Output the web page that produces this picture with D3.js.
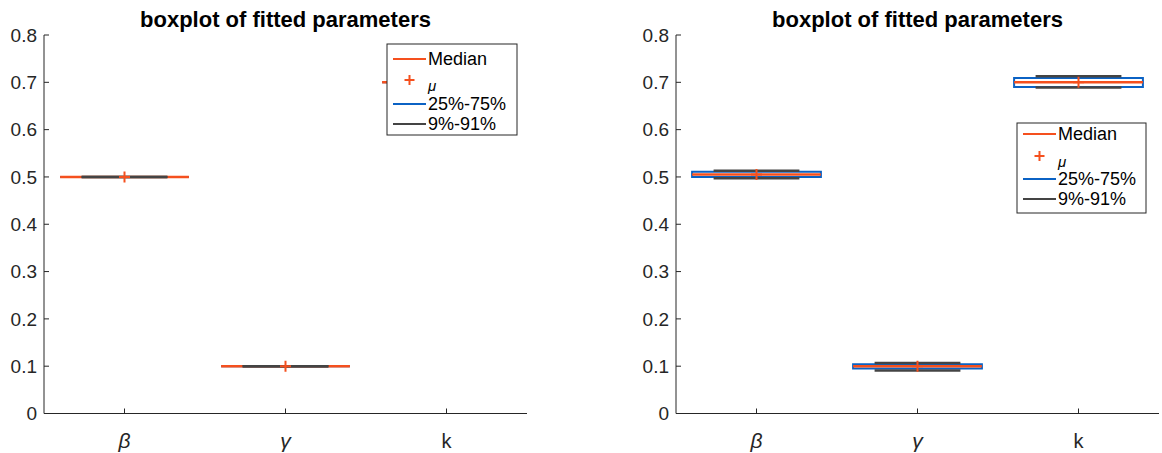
<!DOCTYPE html>
<html>
<head>
<meta charset="utf-8">
<script src="https://cdn.jsdelivr.net/npm/d3@7"></script>
<style>
  body { margin: 0; background: #fff; }
  svg { display: block; }
  text { font-family: "Liberation Sans", Arial, Helvetica, sans-serif; }
</style>
</head>
<body>
<svg id="chart" width="1162" height="453"></svg>
<script>
// ---------- data ----------
const categories = ["β", "γ", "k"];
const categoryItalic = [true, true, false];
const yTicks = [0, 0.1, 0.2, 0.3, 0.4, 0.5, 0.6, 0.7, 0.8];
const yTickLabels = ["0", "0.1", "0.2", "0.3", "0.4", "0.5", "0.6", "0.7", "0.8"];
const titleText = "boxplot of fitted parameters";
const legendLabels = ["Median", "μ", "25%-75%", "9%-91%"];

// left panel
const leftMedian = [0.5, 0.1, 0.7];
const leftMean   = [0.5, 0.1, 0.7];
const leftQ25    = [0.5, 0.1, 0.7];
const leftQ75    = [0.5, 0.1, 0.7];
const leftP09    = [0.5, 0.1, 0.7];
const leftP91    = [0.5, 0.1, 0.7];

// right panel
const rightMedian = [0.505, 0.100, 0.700];
const rightMean   = [0.505, 0.100, 0.700];
const rightQ25    = [0.500, 0.095, 0.690];
const rightQ75    = [0.511, 0.104, 0.709];
const rightP09    = [0.497, 0.091, 0.689];
const rightP91    = [0.513, 0.107, 0.713];

// ---------- style ----------
const C_MED = "#f5501e";
const C_BOX = "#0b62c4";
const C_WHI = "#444444";
const C_AX = "#262626";

const svg = d3.select("#chart");

function drawPanel(cfg) {
  const g = svg.append("g");
  const x = d3.scaleLinear().domain([0.5, 3.5]).range([cfg.x0, cfg.x1]);
  const y = d3.scaleLinear().domain([0, 0.8]).range([cfg.yb, cfg.yt]);
  const boxW = 0.8, capW = 0.533;

  const rows = categories.map((c, i) => ({
    i, pos: i + 1,
    med: cfg.med[i], mean: cfg.mean[i], q25: cfg.q25[i], q75: cfg.q75[i],
    p09: cfg.p09[i], p91: cfg.p91[i]
  }));

  const bx = g.append("g");
  rows.forEach(r => {
    const xl = x(r.pos - boxW / 2), xr = x(r.pos + boxW / 2);
    bx.append("path")
      .attr("d", `M${xl},${y(r.q25)}L${xr},${y(r.q25)}L${xr},${y(r.q75)}L${xl},${y(r.q75)}Z`)
      .attr("fill", "none").attr("stroke", C_BOX).attr("stroke-width", 2);
    bx.append("line")
      .attr("x1", xl).attr("x2", xr).attr("y1", y(r.med)).attr("y2", y(r.med))
      .attr("stroke", C_MED).attr("stroke-width", 2.5);
    bx.append("line").attr("x1", x(r.pos)).attr("x2", x(r.pos))
      .attr("y1", y(r.q75)).attr("y2", y(r.p91)).attr("stroke", C_WHI).attr("stroke-width", 1.5);
    bx.append("line").attr("x1", x(r.pos)).attr("x2", x(r.pos))
      .attr("y1", y(r.q25)).attr("y2", y(r.p09)).attr("stroke", C_WHI).attr("stroke-width", 1.5);
    [r.p09, r.p91].forEach(v => {
      bx.append("line")
        .attr("x1", x(r.pos - capW / 2)).attr("x2", x(r.pos + capW / 2))
        .attr("y1", y(v)).attr("y2", y(v))
        .attr("stroke", C_WHI).attr("stroke-width", 2.5);
    });
    const mx = x(r.pos), my = y(r.mean), s = 5.5;
    bx.append("path")
      .attr("d", `M${mx - s},${my}L${mx + s},${my}M${mx},${my - s}L${mx},${my + s}`)
      .attr("stroke", C_MED).attr("stroke-width", 2).attr("fill", "none");
  });

  // axes
  const ax = g.append("g").attr("stroke", C_AX).attr("stroke-width", 1);
  ax.append("line").attr("x1", cfg.x0).attr("x2", cfg.x0).attr("y1", y(0)).attr("y2", y(0.8));
  ax.append("line").attr("x1", cfg.x0).attr("x2", cfg.x1).attr("y1", y(0)).attr("y2", y(0));
  yTicks.forEach((t, k) => {
    ax.append("line").attr("x1", cfg.x0).attr("x2", cfg.x0 + 5).attr("y1", y(t)).attr("y2", y(t));
    g.append("text").attr("x", cfg.x0 - 7).attr("y", y(t)).attr("dy", "0.35em")
      .attr("text-anchor", "end").attr("font-size", 19).attr("fill", C_AX)
      .text(yTickLabels[k]);
  });
  categories.forEach((c, i) => {
    ax.append("line").attr("x1", x(i + 1)).attr("x2", x(i + 1)).attr("y1", y(0)).attr("y2", y(0) - 5);
    const t = g.append("text").attr("x", x(i + 1)).attr("y", y(0) + 34)
      .attr("text-anchor", "middle").attr("font-size", 20).attr("fill", C_AX).text(c);
    if (categoryItalic[i]) t.attr("font-family", "'Liberation Serif', 'DejaVu Serif', serif")
      .attr("font-style", "italic").attr("font-size", 21);
  });

  // title
  g.append("text").attr("x", (cfg.x0 + cfg.x1) / 2).attr("y", 27)
    .attr("text-anchor", "middle").attr("font-size", 22).attr("font-weight", "bold")
    .attr("fill", "#000").text(titleText);

  // legend
  const L = cfg.legend;
  const lg = g.append("g");
  lg.append("rect").attr("x", L.x).attr("y", L.y).attr("width", L.w).attr("height", L.h)
    .attr("fill", "#fff").attr("stroke", "#262626").attr("stroke-width", 1);
  const rowsY = L.rows;
  const lx0 = L.x + 6, lx1 = L.x + 39, tx = L.x + 41;
  lg.append("line").attr("x1", lx0).attr("x2", lx1).attr("y1", rowsY[0]).attr("y2", rowsY[0])
    .attr("stroke", C_MED).attr("stroke-width", 2);
  const mcx = (lx0 + lx1) / 2;
  lg.append("path").attr("d", `M${mcx - 5},${rowsY[1]}L${mcx + 5},${rowsY[1]}M${mcx},${rowsY[1] - 5}L${mcx},${rowsY[1] + 5}`)
    .attr("stroke", C_MED).attr("stroke-width", 2);
  lg.append("line").attr("x1", lx0).attr("x2", lx1).attr("y1", rowsY[2]).attr("y2", rowsY[2])
    .attr("stroke", C_BOX).attr("stroke-width", 2);
  lg.append("line").attr("x1", lx0).attr("x2", lx1).attr("y1", rowsY[3]).attr("y2", rowsY[3])
    .attr("stroke", C_WHI).attr("stroke-width", 2);
  legendLabels.forEach((lab, k) => {
    const t = lg.append("text").attr("x", tx).attr("y", rowsY[k]).attr("dy", "0.35em")
      .attr("font-size", 18).attr("fill", "#000").text(lab);
    if (k === 1) t.attr("font-family", "'Liberation Serif', 'DejaVu Serif', serif")
      .attr("font-style", "italic").attr("font-size", 15).attr("dy", "0.75em");
  });
}

drawPanel({
  x0: 44, x1: 527, yb: 413.5, yt: 35,
  med: leftMedian, mean: leftMean, q25: leftQ25, q75: leftQ75, p09: leftP09, p91: leftP91,
  legend: { x: 387, y: 44, w: 130, h: 91, rows: [59, 80, 104, 124] }
});
drawPanel({
  x0: 676, x1: 1159, yb: 413.5, yt: 35,
  med: rightMedian, mean: rightMean, q25: rightQ25, q75: rightQ75, p09: rightP09, p91: rightP91,
  legend: { x: 1017, y: 123, w: 129, h: 90, rows: [134, 156, 179, 199] }
});
</script>
</body>
</html>
